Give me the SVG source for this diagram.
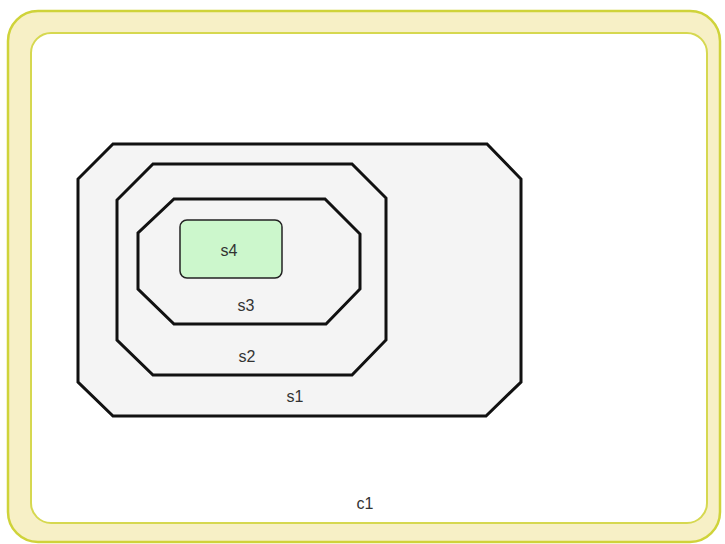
<svg xmlns="http://www.w3.org/2000/svg" width="725" height="544" viewBox="0 0 725 544">
  <style>
    .frame-outer { fill: #f7f0c6; stroke: #cfd33a; stroke-width: 2.5; }
    .frame-inner { fill: #ffffff; stroke: #d6d850; stroke-width: 2; }
    .state { fill: #f4f4f4; stroke: #111111; stroke-width: 3; stroke-linejoin: miter; }
    .leaf { fill: #ccf7cc; stroke: #222222; stroke-width: 1.5; }
    .label { font-family: "Liberation Sans", Arial, sans-serif; font-size: 16px; fill: #333333; text-anchor: middle; }
  </style>

  <g id="c1">
    <rect class="frame-outer" x="8" y="11" width="712" height="531" rx="30" ry="30"/>
    <rect class="frame-inner" x="31" y="33" width="676" height="490" rx="20" ry="20"/>
    <text class="label" x="365" y="509">c1</text>
  </g>

  <g id="s1">
    <polygon class="state" points="113,144 487,144 521,179 521,382 486,416 113,416 78,382 78,179"/>
    <text class="label" x="295" y="402">s1</text>
  </g>

  <g id="s2">
    <polygon class="state" points="153,164 352,164 386,198 386,340 352,375 153,375 117,340 117,200"/>
    <text class="label" x="247" y="362">s2</text>
  </g>

  <g id="s3">
    <polygon class="state" points="174,199 325,199 360,234 360,289 326,324 174,324 138,289 138,233"/>
    <text class="label" x="246" y="311">s3</text>
  </g>

  <g id="s4">
    <rect class="leaf" x="180" y="220" width="102" height="58" rx="7" ry="7"/>
    <text class="label" x="229" y="256">s4</text>
  </g>

  <g id="connectors"></g>
</svg>
